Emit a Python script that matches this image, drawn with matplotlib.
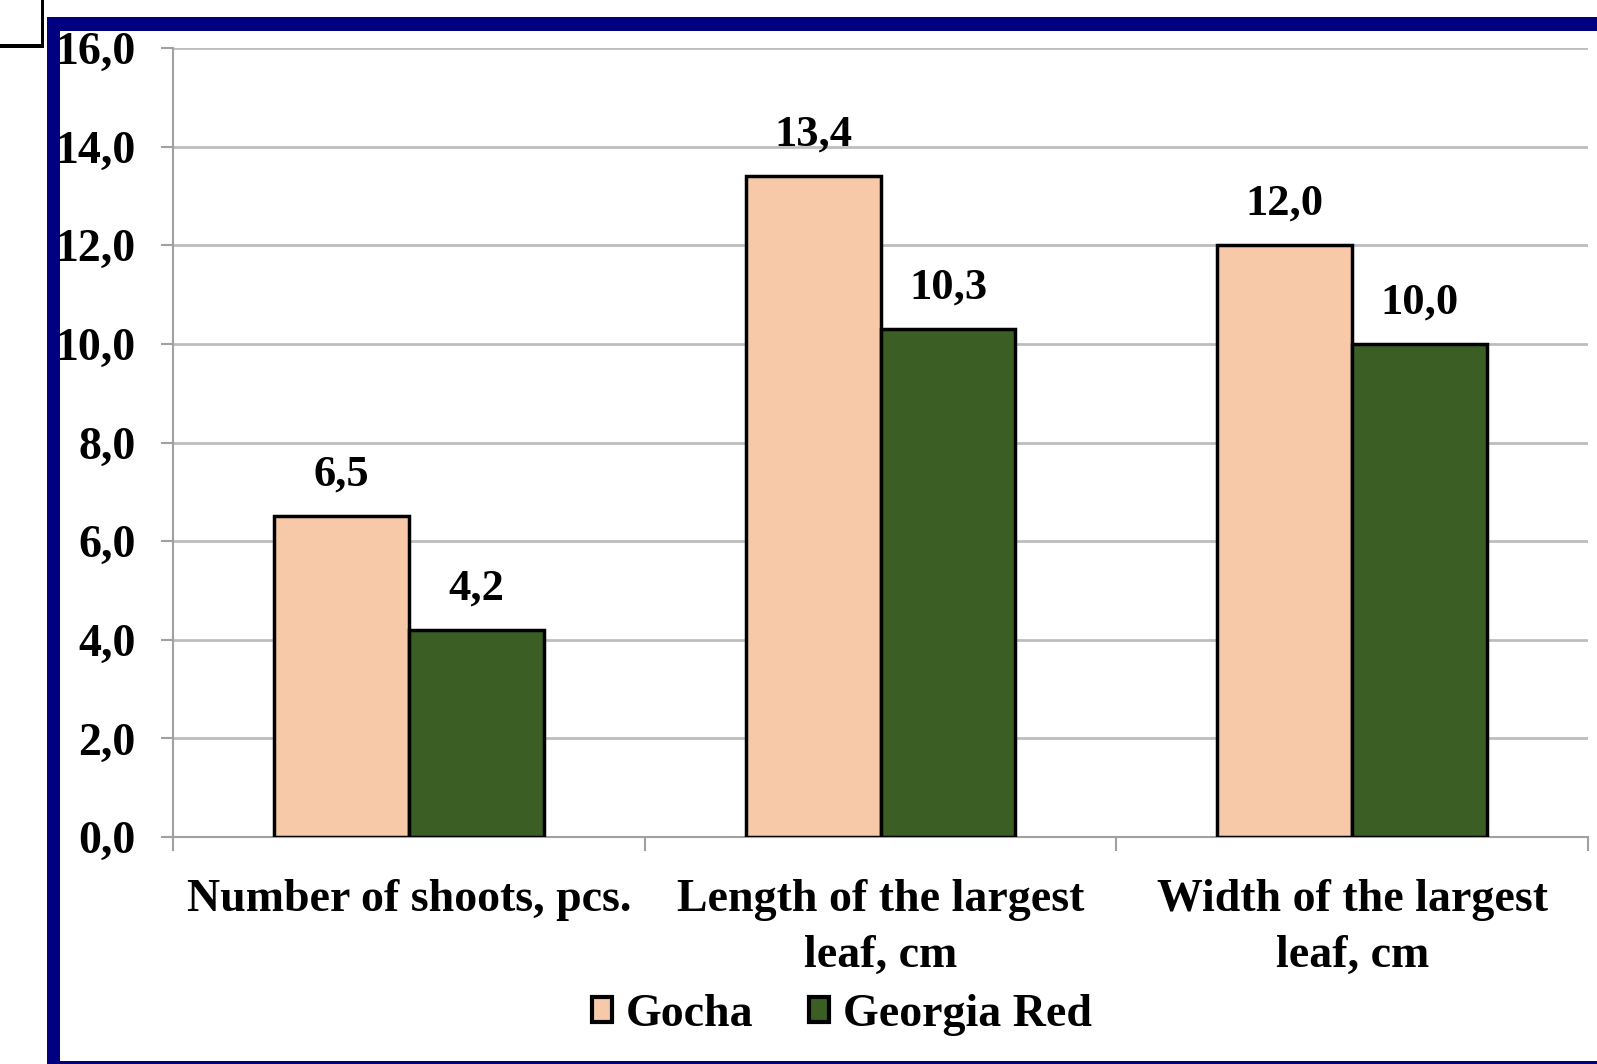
import numpy as np
import matplotlib.pyplot as plt
from matplotlib.patches import Rectangle

plt.rcParams['font.family'] = ['Liberation Serif', 'DejaVu Serif']
plt.rcParams['font.weight'] = 'bold'

categories = ['Number of shoots, pcs.', 'Length of the largest\nleaf, cm', 'Width of the largest\nleaf, cm']
series = ['Gocha', 'Georgia Red']
gocha = [6.5, 13.4, 12.0]
georgia_red = [4.2, 10.3, 10.0]
yticks = [0, 2, 4, 6, 8, 10, 12, 14, 16]

colors = ['#F7C9A9', '#3B5E25']

W, H = 1597, 1064
fig = plt.figure(figsize=(W / 100, H / 100), dpi=100)
ax = fig.add_axes([0.1083, 0.2133, 0.8861, 0.7416])

x = np.arange(len(categories))
w = 0.286
b1 = ax.bar(x - w / 2, gocha, w, color=colors[0], edgecolor='black', linewidth=2.5, label=series[0], zorder=3)
b2 = ax.bar(x + w / 2, georgia_red, w, color=colors[1], edgecolor='black', linewidth=2.5, label=series[1], zorder=3)

for bars, vals in ((b1, gocha), (b2, georgia_red)):
    for r, v in zip(bars, vals):
        ax.annotate(f'{v:.1f}'.replace('.', ','), (r.get_x() + r.get_width() / 2, v),
                    xytext=(0, 22), textcoords='offset points', ha='center', va='baseline',
                    fontsize=32, fontweight='bold')

ax.set_xlim(-0.5, 2.5)
ax.set_ylim(0, 16)
ax.set_yticks(yticks)
ax.set_yticklabels([f'{t:.1f}'.replace('.', ',') for t in yticks], fontsize=33, fontweight='bold')
ax.yaxis.grid(True, color='#BDBDBD', linewidth=2.0, zorder=0)
ax.set_axisbelow(True)

ax.set_xticks(x)
ax.set_xticklabels(categories, fontsize=33, fontweight='bold', linespacing=1.45)
ax.set_xticks([-0.5, 0.5, 1.5, 2.5], minor=True)
ax.tick_params(axis='x', which='major', length=0, pad=30)
ax.tick_params(axis='x', which='minor', length=10, width=1.5, color='#A0A0A0')
ax.tick_params(axis='y', length=9, width=1.5, color='#A0A0A0', pad=18)

for s in ('top', 'right'):
    ax.spines[s].set_visible(False)
for s in ('left', 'bottom'):
    ax.spines[s].set_color('#A0A0A0')
    ax.spines[s].set_linewidth(1.5)

fig.legend(handles=[b1, b2], labels=series, loc='center', bbox_to_anchor=(842 / W, 1 - 1015 / H),
           ncol=2, frameon=False, fontsize=33, handlelength=0.45, handleheight=0.45,
           handletextpad=0.3, columnspacing=1.2, borderpad=0)
for h in fig.legends[0].legend_handles:
    h.set_linewidth(3)


def px_rect(x0, y0, x1, y1, color):
    # filled rectangle given in pixel coords measured from the top-left corner
    fig.patches.append(Rectangle((x0 / W, 1 - y1 / H), (x1 - x0) / W, (y1 - y0) / H,
                                 transform=fig.transFigure, facecolor=color,
                                 edgecolor='none', zorder=10))


# navy slide frame (left, top, bottom)
navy = '#000080'
px_rect(47, 17, 60, H, navy)
px_rect(47, 17, W, 31, navy)
px_rect(47, 1061, W, H, navy)

# small box in the top-left corner
px_rect(0, 44, 44, 47.5, 'black')
px_rect(40.5, 0, 44, 47.5, 'black')

fig.savefig('out.png', dpi=100)
